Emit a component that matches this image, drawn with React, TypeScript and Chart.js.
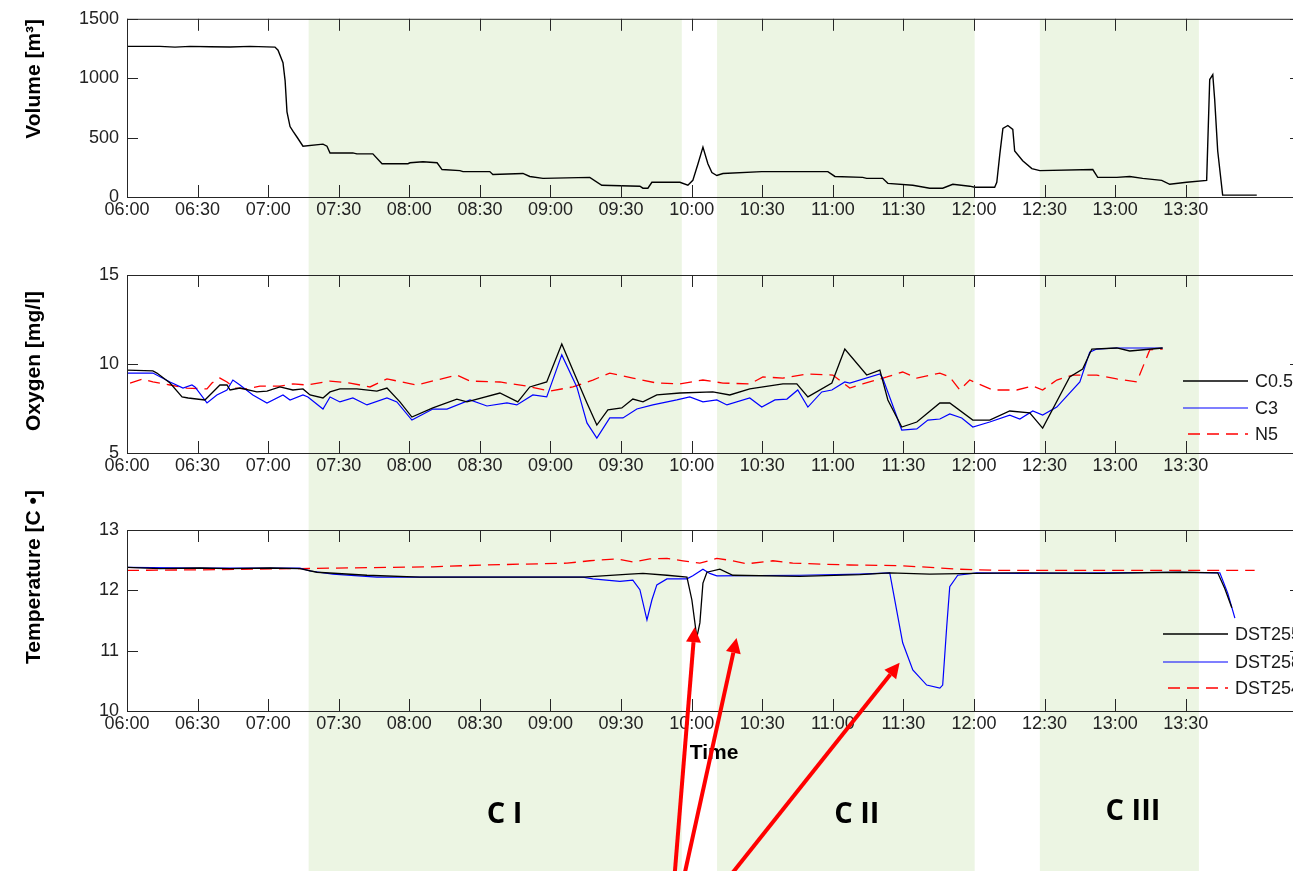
import React, { useEffect, useRef } from "react";
import { Chart, registerables } from "chart.js";
Chart.register(...registerables);

// ---------- data (time in minutes after 06:00) ----------
const xTicks = [0, 30, 60, 90, 120, 150, 180, 210, 240, 270, 300, 330, 360, 390, 420, 450];
const xMax = 499;

const bandStart = [77.2, 250.8, 388.0];
const bandEnd = [235.8, 360.3, 455.6];
const bandLabels = ["C I", "C II", "C III"];
const bandLabelT = [160.5, 310.2, 427.6];
const bandLabelTemp = [8.28, 8.28, 8.33];

// Volume [m3]
const volT = [0, 14.0, 20.4, 26.8, 35.3, 43.8, 52.3, 62.9, 64.2, 66.3, 67.2, 68.0, 69.3, 70.6, 72.3, 74.8, 83.3, 85.0, 86.3, 96.0, 97.7, 104.5, 108.4, 119.4, 120.3, 125.8, 131.8, 133.9, 141.5, 142.8, 154.2, 155.5, 168.3, 171.2, 176.8, 196.7, 201.8, 218.0, 219.3, 221.4, 223.1, 235.0, 238.4, 240.5, 242.7, 244.8, 246.9, 248.6, 250.7, 253.3, 269.8, 297.9, 300.9, 312.7, 314.4, 321.2, 323.4, 334.0, 341.2, 346.7, 351.0, 358.2, 360.3, 368.8, 369.7, 371.0, 372.3, 374.4, 376.5, 377.3, 380.7, 384.6, 388.0, 410.5, 412.6, 420.7, 426.2, 431.7, 439.8, 443.2, 450.4, 458.9, 460.2, 461.5, 462.3, 463.6, 465.7, 480.2];
const volV = [1268, 1268, 1262, 1268, 1265, 1262, 1268, 1262, 1236, 1130, 980, 717, 593, 552, 503, 428, 445, 428, 371, 371, 363, 363, 280, 280, 288, 297, 288, 231, 222, 214, 214, 190, 198, 173, 157, 165, 99, 91, 74, 74, 124, 124, 99, 140, 280, 420, 280, 206, 181, 198, 214, 214, 173, 165, 157, 157, 115, 99, 74, 74, 107, 91, 82, 82, 124, 363, 577, 602, 569, 387, 305, 239, 222, 231, 165, 165, 173, 157, 140, 107, 124, 140, 989, 1030, 824, 387, 16, 16];

// Oxygen [mg/l]
const c05T = [0, 11.0, 12.7, 18.3, 23.4, 26.0, 33.1, 36.1, 39.5, 42.5, 43.8, 48.0, 55.2, 59.5, 65.0, 70.5, 74.8, 77.8, 83.3, 86.3, 90.5, 97.7, 106.2, 110.5, 116.0, 121.1, 130.0, 140.2, 144.5, 158.5, 166.1, 171.2, 178.4, 184.8, 189.5, 195.5, 199.7, 204.4, 210.3, 215.0, 219.3, 225.2, 235.0, 249.0, 256.2, 264.7, 278.8, 284.7, 289.4, 299.6, 305.1, 314.4, 320.0, 323.4, 329.3, 335.7, 345.5, 349.7, 359.5, 366.7, 375.2, 383.7, 389.2, 400.7, 406.2, 410.1, 420.7, 426.2, 440.2];
const c05V = [9.66, 9.61, 9.49, 8.93, 8.15, 8.09, 7.98, 8.37, 8.82, 8.82, 8.54, 8.65, 8.43, 8.48, 8.71, 8.54, 8.60, 8.26, 8.09, 8.43, 8.60, 8.60, 8.48, 8.65, 7.87, 7.02, 7.53, 8.03, 7.87, 8.37, 7.87, 8.71, 8.99, 11.12, 9.66, 7.81, 6.57, 7.42, 7.53, 8.03, 7.87, 8.26, 8.37, 8.43, 8.26, 8.60, 8.88, 8.88, 8.15, 8.93, 10.84, 9.38, 9.66, 7.98, 6.46, 6.74, 7.81, 7.81, 6.85, 6.85, 7.36, 7.25, 6.40, 9.27, 9.72, 10.84, 10.90, 10.73, 10.90];
const c3T = [0, 11.0, 18.3, 23.8, 27.6, 28.9, 34.0, 38.2, 42.5, 45.0, 48.0, 53.5, 59.5, 66.3, 69.3, 74.8, 76.9, 83.3, 86.3, 90.5, 96.0, 102.0, 110.5, 114.7, 121.1, 130.0, 136.0, 145.8, 153.0, 161.5, 165.7, 172.5, 178.4, 184.8, 191.2, 195.5, 199.7, 205.2, 210.8, 216.7, 223.5, 233.7, 239.2, 244.8, 250.7, 255.0, 264.7, 269.8, 275.4, 280.5, 285.1, 289.4, 295.3, 299.6, 305.1, 307.2, 320.0, 321.2, 329.3, 335.7, 340.4, 345.5, 349.7, 354.8, 359.5, 366.7, 375.2, 379.5, 385.0, 389.2, 395.2, 405.0, 409.2, 412.2, 420.7, 440.2];
const c3V = [9.49, 9.49, 8.99, 8.65, 8.82, 8.71, 7.81, 8.26, 8.54, 9.10, 8.82, 8.26, 7.81, 8.26, 7.98, 8.26, 8.15, 7.47, 8.15, 7.87, 8.09, 7.70, 8.09, 7.87, 6.85, 7.47, 7.47, 7.98, 7.64, 7.81, 7.70, 8.26, 8.15, 10.51, 8.71, 6.69, 5.84, 6.97, 6.97, 7.47, 7.70, 7.98, 8.15, 7.87, 7.98, 7.70, 8.09, 7.58, 7.98, 8.03, 8.54, 7.58, 8.43, 8.54, 8.99, 8.93, 9.44, 9.21, 6.29, 6.35, 6.85, 6.91, 7.19, 6.97, 6.46, 6.74, 7.13, 6.91, 7.36, 7.13, 7.58, 8.99, 10.67, 10.84, 10.90, 10.90];
const n5T = [1.3, 6.8, 11.0, 18.3, 25.5, 34.0, 36.1, 39.5, 42.5, 45.9, 51.0, 56.5, 65.0, 70.5, 76.5, 86.3, 94.8, 103.3, 110.5, 123.2, 140.2, 145.8, 158.5, 170.0, 179.7, 189.5, 198.0, 205.2, 215.0, 225.2, 235.0, 244.8, 253.3, 264.7, 270.3, 278.8, 289.0, 300.0, 307.2, 312.7, 323.0, 329.7, 335.7, 345.5, 349.7, 354.0, 358.2, 368.0, 378.2, 385.0, 389.2, 395.2, 402.0, 412.2, 420.7, 429.2, 434.7, 440.2];
const n5V = [8.93, 9.16, 8.99, 8.82, 8.65, 8.60, 8.93, 9.21, 8.99, 8.65, 8.60, 8.76, 8.76, 8.88, 8.82, 9.04, 8.93, 8.71, 9.16, 8.82, 9.38, 9.04, 8.99, 8.76, 8.48, 8.71, 9.10, 9.49, 9.21, 8.93, 8.88, 9.10, 8.93, 8.88, 9.27, 9.21, 9.44, 9.38, 8.65, 8.88, 9.27, 9.55, 9.21, 9.49, 9.27, 8.54, 9.10, 8.54, 8.54, 8.76, 8.54, 9.10, 9.38, 9.38, 9.16, 8.99, 10.79, 10.84];

// Temperature [C]
const d255T = [0, 14.0, 31.0, 43.8, 60.8, 73.5, 80.7, 102.0, 124.5, 158.5, 193.8, 213.7, 219.3, 229.5, 238.0, 240.1, 242.2, 243.5, 244.8, 246.5, 252.0, 257.5, 286.0, 311.5, 324.2, 341.2, 360.3, 379.5, 413.5, 447.5, 463.6, 466.6, 469.6];
const d255V = [12.38, 12.36, 12.37, 12.36, 12.37, 12.36, 12.30, 12.25, 12.22, 12.22, 12.22, 12.27, 12.28, 12.25, 12.22, 11.84, 11.22, 11.46, 12.12, 12.30, 12.35, 12.25, 12.23, 12.26, 12.29, 12.27, 12.28, 12.29, 12.28, 12.30, 12.29, 12.03, 11.71];
const d258T = [0, 31.0, 73.5, 77.8, 87.5, 106.2, 158.5, 193.8, 198.0, 209.5, 215.0, 218.0, 221.0, 223.1, 225.2, 229.5, 238.0, 240.5, 244.8, 247.7, 250.7, 286.0, 311.5, 324.2, 329.7, 334.0, 339.9, 345.5, 346.7, 348.4, 349.7, 353.1, 361.2, 379.5, 413.5, 447.5, 464.5, 467.9, 470.9];
const d258V = [12.38, 12.37, 12.37, 12.32, 12.27, 12.22, 12.22, 12.22, 12.19, 12.15, 12.17, 12.01, 11.51, 11.84, 12.09, 12.19, 12.19, 12.24, 12.35, 12.28, 12.24, 12.25, 12.27, 12.29, 11.13, 10.68, 10.43, 10.38, 10.43, 11.39, 12.06, 12.25, 12.29, 12.28, 12.29, 12.30, 12.29, 11.95, 11.54];
const d254T = [0, 31.0, 73.5, 130.0, 151.3, 187.0, 196.7, 208.2, 215.0, 222.2, 229.5, 236.3, 243.5, 250.7, 257.5, 263.5, 274.5, 283.0, 307.2, 328.5, 354.0, 371.0, 479.3];
const d254V = [12.33, 12.34, 12.36, 12.39, 12.42, 12.45, 12.49, 12.52, 12.47, 12.52, 12.53, 12.49, 12.45, 12.53, 12.49, 12.44, 12.49, 12.45, 12.42, 12.41, 12.35, 12.33, 12.33];

// annotation arrows (tail -> tip), in time / temperature units
const arrowTailT = [232.8, 237.0, 257.0];
const arrowTailV = [7.3, 7.3, 7.3];
const arrowTipT = [241.3, 259.1, 328.4];
const arrowTipV = [11.39, 11.21, 10.8];

// ---------- layout ----------
const W = 1320;
const H = 871;
const AREA_LEFT = 127;
const AREA_RIGHT = 1301;
const XAXIS_H = 30;
const TICK_FONT = { family: "'Liberation Sans', Arial, sans-serif", size: 18 };
const AXIS_COLOR = "#262626";
const BAND_COLOR = "rgb(236, 245, 227)";

const pts = (t: number[], v: number[]) => t.map((x, i) => ({ x, y: v[i] }));
const fmt = (m: number) => {
  const tot = 360 + Math.round(m);
  const h = Math.floor(tot / 60);
  const mm = tot % 60;
  return `${String(h).padStart(2, "0")}:${String(mm).padStart(2, "0")}`;
};

const framePlugin = {
  id: "frame",
  afterDraw(chart: any) {
    const { ctx, chartArea: a, scales } = chart;
    const o = chart.options.plugins.frame || {};
    ctx.save();
    ctx.strokeStyle = AXIS_COLOR;
    ctx.lineWidth = 1;
    ctx.strokeRect(a.left + 0.5, a.top + 0.5, a.right - a.left, a.bottom - a.top);
    ctx.beginPath();
    for (const t of scales.x.ticks) {
      const px = Math.round(scales.x.getPixelForValue(t.value)) + 0.5;
      ctx.moveTo(px, a.bottom);
      ctx.lineTo(px, a.bottom - 12);
      ctx.moveTo(px, a.top);
      ctx.lineTo(px, a.top + 12);
    }
    for (const t of scales.y.ticks) {
      const py = Math.round(scales.y.getPixelForValue(t.value)) + 0.5;
      ctx.moveTo(a.left, py);
      ctx.lineTo(a.left + 11, py);
      ctx.moveTo(a.right, py);
      ctx.lineTo(a.right - 11, py);
    }
    ctx.stroke();
    // y title
    if (o.title) {
      ctx.translate(40, a.top + o.titleOffset);
      ctx.rotate(-Math.PI / 2);
      ctx.fillStyle = "#000";
      ctx.font = "bold 21px 'Liberation Sans', Arial, sans-serif";
      ctx.textAlign = "center";
      ctx.textBaseline = "alphabetic";
      ctx.fillText(o.title, 0, 0);
    }
    ctx.restore();
    // legend
    if (o.legend) {
      const L = o.legend;
      ctx.save();
      chart.data.datasets.forEach((ds: any, i: number) => {
        const y = a.top + L.rows[i];
        ctx.strokeStyle = ds.borderColor;
        ctx.lineWidth = ds.borderWidth;
        ctx.setLineDash(ds.borderDash || []);
        ctx.beginPath();
        const x0 = a.right - L.lineStart + (ds.borderDash ? 5 : 0);
        ctx.moveTo(x0, y);
        ctx.lineTo(a.right - L.lineEnd, y);
        ctx.stroke();
        ctx.setLineDash([]);
        ctx.fillStyle = "#1a1a1a";
        ctx.font = "18px 'Liberation Sans', Arial, sans-serif";
        ctx.textAlign = "left";
        ctx.textBaseline = "middle";
        ctx.fillText(ds.label, a.right - L.textX, y + 1);
      });
      ctx.restore();
    }
  },
};

const bandPlugin = {
  id: "bands",
  beforeDraw(chart: any) {
    const { ctx, chartArea: a, scales } = chart;
    ctx.save();
    ctx.fillStyle = BAND_COLOR;
    bandStart.forEach((s, i) => {
      const x1 = scales.x.getPixelForValue(s);
      const x2 = scales.x.getPixelForValue(bandEnd[i]);
      ctx.fillRect(x1, a.top, x2 - x1, H - a.top);
    });
    ctx.restore();
  },
};

const notesPlugin = {
  id: "notes",
  afterDraw(chart: any) {
    const { ctx, chartArea: a, scales } = chart;
    ctx.save();
    // axis title "Time"
    ctx.fillStyle = "#000";
    ctx.font = "bold 21px 'Liberation Sans', Arial, sans-serif";
    ctx.textAlign = "center";
    ctx.textBaseline = "middle";
    ctx.fillText("Time", (a.left + a.right) / 2, a.bottom + 42);
    // band labels
    ctx.font = "bold 29px 'Open Sans', 'Liberation Sans', sans-serif";
    bandLabels.forEach((lab, i) => {
      ctx.fillText(lab, scales.x.getPixelForValue(bandLabelT[i]), scales.y.getPixelForValue(bandLabelTemp[i]));
    });
    // arrows
    ctx.strokeStyle = "#ff0000";
    ctx.fillStyle = "#ff0000";
    ctx.lineWidth = 4;
    arrowTipT.forEach((tt, i) => {
      const tx = scales.x.getPixelForValue(tt);
      const ty = scales.y.getPixelForValue(arrowTipV[i]);
      const sx = scales.x.getPixelForValue(arrowTailT[i]);
      const sy = scales.y.getPixelForValue(arrowTailV[i]);
      const dx = tx - sx, dy = ty - sy;
      const len = Math.hypot(dx, dy);
      const ux = dx / len, uy = dy / len;
      const hl = 15, hw = 7.5;
      ctx.beginPath();
      ctx.moveTo(sx, sy);
      ctx.lineTo(tx - ux * hl, ty - uy * hl);
      ctx.stroke();
      ctx.beginPath();
      ctx.moveTo(tx, ty);
      ctx.lineTo(tx - ux * hl - uy * hw, ty - uy * hl + ux * hw);
      ctx.lineTo(tx - ux * hl + uy * hw, ty - uy * hl - ux * hw);
      ctx.closePath();
      ctx.fill();
    });
    ctx.restore();
  },
};

function makeConfig(opts: any) {
  return {
    type: "line",
    data: { datasets: opts.datasets },
    options: {
      responsive: false,
      animation: false,
      devicePixelRatio: 1,
      events: [],
      layout: {
        padding: { left: 0, right: W - AREA_RIGHT, top: opts.top, bottom: H - opts.bottom - XAXIS_H },
      },
      elements: { point: { radius: 0 }, line: { tension: 0 } },
      plugins: {
        legend: { display: false },
        tooltip: { enabled: false },
        frame: { title: opts.title, titleOffset: opts.titleOffset, legend: opts.legend },
      },
      scales: {
        x: {
          type: "linear",
          min: 0,
          max: xMax,
          afterBuildTicks: (s: any) => {
            s.ticks = xTicks.map((v) => ({ value: v }));
          },
          afterFit: (s: any) => {
            s.height = XAXIS_H;
          },
          grid: { display: false, drawTicks: false },
          border: { display: false },
          ticks: {
            callback: (v: any) => fmt(Number(v)),
            padding: 2,
            color: "#222",
            font: TICK_FONT,
            maxRotation: 0,
            autoSkip: false,
          },
        },
        y: {
          type: "linear",
          min: opts.yMin,
          max: opts.yMax,
          afterBuildTicks: (s: any) => {
            s.ticks = opts.yTicks.map((v: number) => ({ value: v }));
          },
          afterFit: (s: any) => {
            s.width = AREA_LEFT;
          },
          grid: { display: false, drawTicks: false },
          border: { display: false },
          ticks: { padding: 8, color: "#222", font: TICK_FONT, callback: (v: any) => String(v) },
        },
      },
    },
    plugins: opts.plugins,
  } as any;
}

const volTicks = [0, 500, 1000, 1500];
const oxyTicks = [5, 10, 15];
const tempTicks = [10, 11, 12, 13];

export default function App() {
  const r1 = useRef<HTMLCanvasElement>(null);
  const r2 = useRef<HTMLCanvasElement>(null);
  const r3 = useRef<HTMLCanvasElement>(null);

  useEffect(() => {
    const c1 = new Chart(
      r1.current as HTMLCanvasElement,
      makeConfig({
        top: 15,
        bottom: 197,
        yMin: 0,
        yMax: 1500,
        yTicks: volTicks,
        title: "Volume [m³]",
        titleOffset: 60,
        datasets: [
          { label: "Volume", data: pts(volT, volV), borderColor: "#000", borderWidth: 1.4 },
        ],
        plugins: [bandPlugin, framePlugin],
      })
    );
    const c2 = new Chart(
      r2.current as HTMLCanvasElement,
      makeConfig({
        top: 275,
        bottom: 453,
        yMin: 5,
        yMax: 15,
        yTicks: oxyTicks,
        title: "Oxygen [mg/l]",
        titleOffset: 86,
        legend: { rows: [106, 133, 159], lineStart: 118, lineEnd: 53, textX: 46 },
        datasets: [
          { label: "C0.5", data: pts(c05T, c05V), borderColor: "#000", borderWidth: 1.3 },
          { label: "C3", data: pts(c3T, c3V), borderColor: "#0000ff", borderWidth: 1.2 },
          { label: "N5", data: pts(n5T, n5V), borderColor: "#ff0000", borderWidth: 1.3, borderDash: [12, 7] },
        ],
        plugins: [framePlugin],
      })
    );
    const c3 = new Chart(
      r3.current as HTMLCanvasElement,
      makeConfig({
        top: 530,
        bottom: 711,
        yMin: 10,
        yMax: 13,
        yTicks: tempTicks,
        title: "Temperature [C •]",
        titleOffset: 47,
        legend: { rows: [104, 132, 158], lineStart: 138, lineEnd: 73, textX: 66 },
        datasets: [
          { label: "DST255", data: pts(d255T, d255V), borderColor: "#000", borderWidth: 1.3 },
          { label: "DST258", data: pts(d258T, d258V), borderColor: "#0000ff", borderWidth: 1.2 },
          { label: "DST254", data: pts(d254T, d254V), borderColor: "#ff0000", borderWidth: 1.3, borderDash: [12, 7] },
        ],
        plugins: [framePlugin, notesPlugin],
      })
    );
    return () => {
      c1.destroy();
      c2.destroy();
      c3.destroy();
    };
  }, []);

  const cs: React.CSSProperties = { position: "absolute", left: 0, top: 0, width: W, height: H };
  return (
    <div
      style={{
        position: "absolute",
        left: 0,
        top: 0,
        width: 1293,
        height: 871,
        overflow: "hidden",
        background: "#fff",
      }}
    >
      <canvas ref={r1} width={W} height={H} style={cs} />
      <canvas ref={r2} width={W} height={H} style={cs} />
      <canvas ref={r3} width={W} height={H} style={cs} />
    </div>
  );
}
